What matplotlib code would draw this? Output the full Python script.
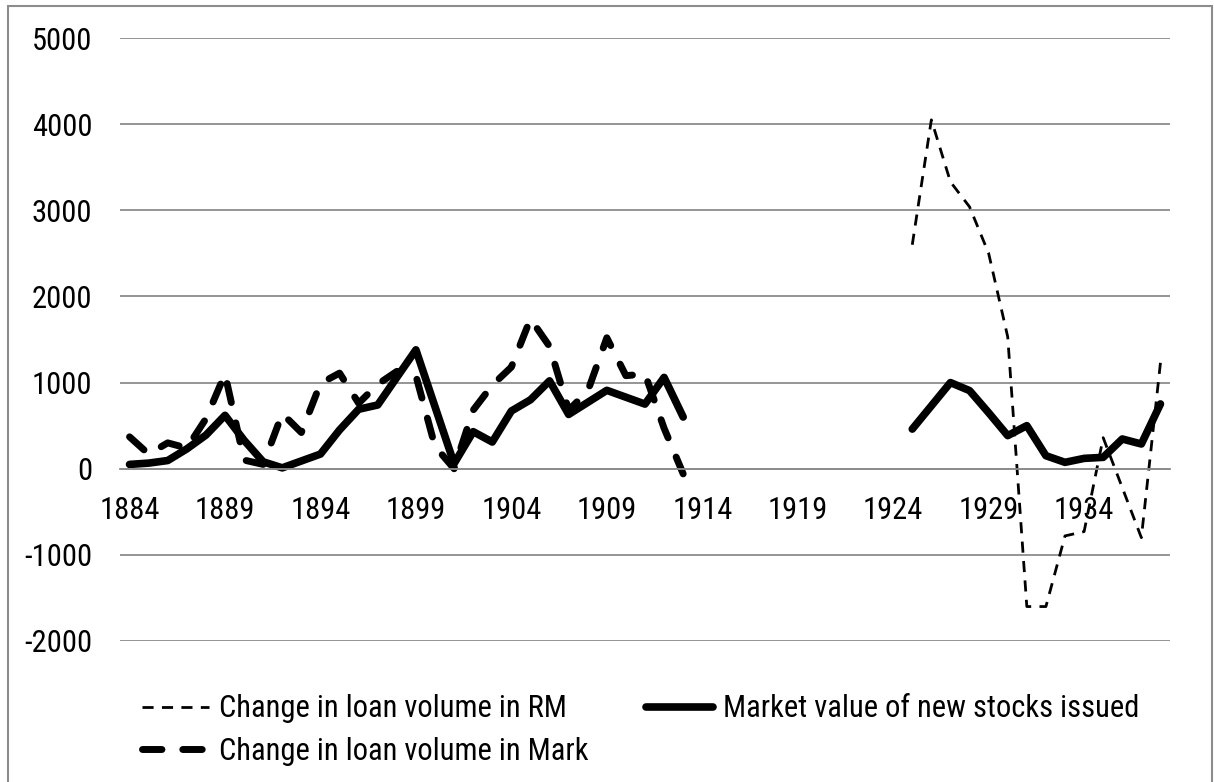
import matplotlib.pyplot as plt
import numpy as np
from matplotlib import font_manager

nan = float('nan')

# categories on the x axis, one per year
years = list(range(1884, 1939))

# change in loan volume in RM (1925-1938 only)
loan_rm = [nan, nan, nan, nan, nan, nan, nan, nan, nan, nan,
           nan, nan, nan, nan, nan, nan, nan, nan, nan, nan,
           nan, nan, nan, nan, nan, nan, nan, nan, nan, nan,
           nan, nan, nan, nan, nan, nan, nan, nan, nan, nan,
           nan,
           2600, 4050, 3330, 3040, 2500, 1530, -1600, -1600, -780, -730,
           360, -220, -800, 1230]

# market value of new stocks issued
stocks = [50, 65, 95, 230, 390, 620, 330, 80, 10, 90,
          170, 450, 690, 740, 1060, 1380, 720, 60, 430, 310,
          670, 800, 1020, 630, 770, 910, 830, 750, 1060, 600,
          nan, nan, nan, nan, nan, nan, nan, nan, nan, nan,
          nan,
          460, 730, 1000, 907, 650, 384, 500, 151, 74, 120,
          132, 345, 287, 752]

# change in loan volume in Mark (1884-1913 only)
loan_mark = [370, 170, 300, 240, 580, 1100, 100, 50, 640, 420,
             990, 1110, 760, 980, 1130, 1080, 260, 0, 680, 970,
             1180, 1740, 1420, 680, 900, 1520, 1080, 1100, 470, -60,
             nan, nan, nan, nan, nan, nan, nan, nan, nan, nan,
             nan, nan, nan, nan, nan, nan, nan, nan, nan, nan,
             nan, nan, nan, nan, nan]

y_ticks = [-2000, -1000, 0, 1000, 2000, 3000, 4000, 5000]


def pick_font():
    # the chart text is a narrow Arial-like face; use a condensed one if there is one
    have = {f.name for f in font_manager.fontManager.ttflist}
    for name in ['Liberation Sans Narrow', 'Arial Narrow', 'Roboto Condensed',
                 'Noto Sans Condensed', 'Open Sans Condensed', 'DejaVu Sans Condensed']:
        if name in have:
            return name, 22
    return 'Liberation Sans', 18


font_name, font_size = pick_font()
plt.rcParams['font.family'] = [font_name, 'DejaVu Sans']

W, H = 1214, 782
fig = plt.figure(figsize=(W / 100, H / 100), dpi=100)
ax = fig.add_axes([120 / W, 1 - 641 / H, 1050 / W, (641 - 38) / H])

x = np.arange(len(years))
grid_col = '#8c8c8c'

l_rm, = ax.plot(x, loan_rm, color='black', lw=2, dashes=(4, 3),
                label='Change in loan volume in RM')
l_st, = ax.plot(x, stocks, color='black', lw=5.5, solid_joinstyle='round',
                solid_capstyle='round', label='Market value of new stocks issued')
l_mk, = ax.plot(x, loan_mark, color='black', lw=5, dashes=(2.8, 3.0),
                dash_capstyle='round', dash_joinstyle='round',
                label='Change in loan volume in Mark')

ax.set_xlim(-0.5, len(years) - 0.5)
ax.set_ylim(-2000, 5000)
ax.set_yticks(y_ticks)
ax.set_yticklabels([str(v) for v in y_ticks])
ax.set_xticks(x[::5])
ax.set_xticklabels([str(y) for y in years[::5]])

ax.grid(axis='y', color=grid_col, lw=1.3)
ax.set_axisbelow(True)
for side in ['left', 'right', 'top']:
    ax.spines[side].set_visible(False)
ax.spines['bottom'].set_position(('data', 0))
ax.spines['bottom'].set_color(grid_col)
ax.spines['bottom'].set_linewidth(1.3)
ax.tick_params(axis='both', length=0, labelsize=font_size)
ax.tick_params(axis='x', pad=20)
ax.tick_params(axis='y', pad=20)

fig.legend(handles=[l_rm, l_mk, l_st], ncol=2, frameon=False, fontsize=font_size,
           loc='upper left', bbox_to_anchor=(130 / W, 1 - 682 / H),
           handlelength=2.2, handletextpad=0.3, columnspacing=1.9,
           labelspacing=0.45, borderaxespad=0)

fig.patches.append(plt.Rectangle((8 / W, -0.05), 1204 / W, 1.05 - 6 / H,
                                 transform=fig.transFigure, fill=False,
                                 edgecolor=grid_col, lw=1.5))

fig.savefig('out.png', dpi=100)
